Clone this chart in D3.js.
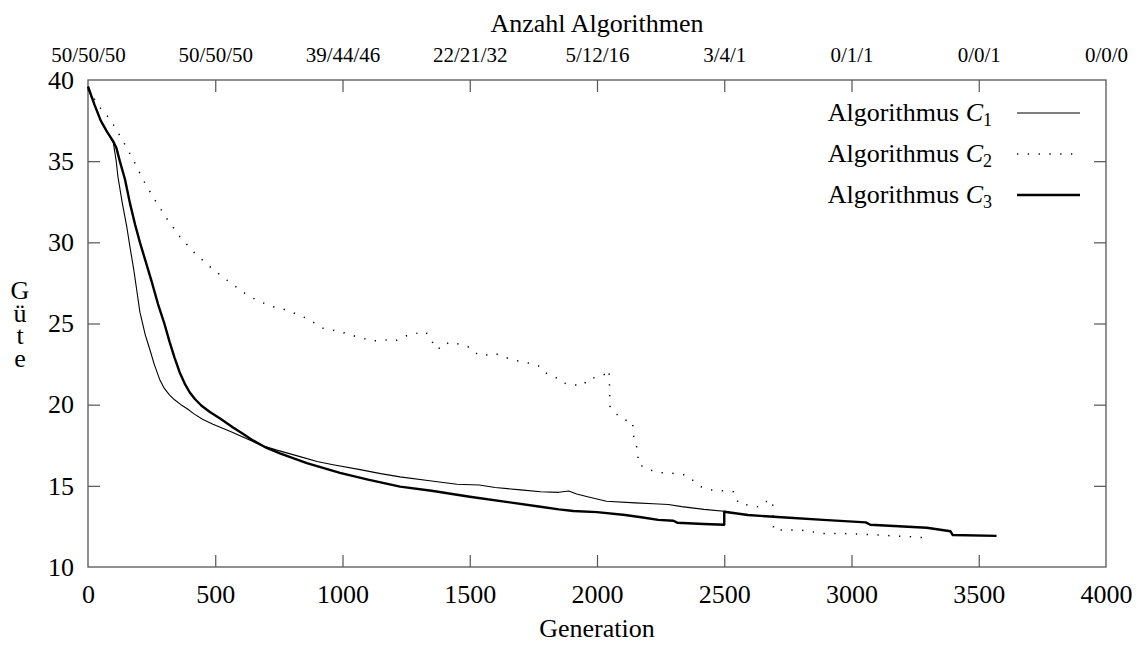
<!DOCTYPE html>
<html>
<head>
<meta charset="utf-8">
<script src="https://cdn.jsdelivr.net/npm/d3@7"></script>
</head>
<body style="margin:0">
<script>
// generation / quality pairs
var c1 = [[0,39.5],[25,38.5],[50,37.5],[75,36.8],[100,36.1],[110,35.1],[118,34.0],[135,32.4],
  [153,30.9],[165,29.7],[180,28.3],[192,27.0],[204,25.7],[225,24.3],[243,23.4],[260,22.5],
  [283,21.5],[300,21.0],[320,20.6],[340,20.3],[365,20.0],[390,19.75],[415,19.45],[450,19.1],
  [491,18.8],[560,18.35],[624,17.9],[680,17.5],[742,17.2],[833,16.8],[900,16.5],[963,16.3],
  [1069,16.0],[1150,15.75],[1226,15.55],[1350,15.3],[1450,15.1],[1537,15.05],[1600,14.9],
  [1700,14.75],[1778,14.64],[1850,14.6],[1889,14.68],[1920,14.5],[1963,14.33],[2037,14.05],
  [2150,13.95],[2222,13.9],[2280,13.85],[2333,13.72],[2420,13.55],[2520,13.4]];

var c2 = [[0,39.4],[54,38.15],[86,37.6],[132,36.4],[178,35.07],[217,33.84],[263,32.6],[309,31.48],
  [361,30.35],[414,29.42],[479,28.5],[545,27.68],[617,26.86],[650,26.55],[715,26.08],[780,25.83],
  [859,25.32],[925,24.7],[990,24.5],[1042,24.25],[1121,23.92],[1164,24.0],[1206,23.92],[1259,24.3],
  [1326,24.5],[1350,24.0],[1363,23.47],[1396,23.47],[1416,23.84],[1462,23.72],[1504,23.51],
  [1533,23.06],[1566,23.06],[1599,23.16],[1638,22.92],[1682,22.71],[1724,22.59],[1769,22.4],
  [1796,21.97],[1835,21.72],[1859,21.38],[1903,21.21],[1949,21.21],[1959,21.52],[1996,21.69],
  [2031,21.87],[2047,22.14],[2049,21.3],[2051,19.9],[2088,19.22],[2127,18.95],[2140,18.95],
  [2143,18.13],[2160,17.16],[2162,16.35],[2202,16.0],[2248,15.81],[2296,15.77],[2346,15.67],
  [2380,15.3],[2407,14.95],[2450,14.75],[2537,14.64],[2556,13.92],[2630,13.71],[2650,14.0],
  [2690,14.09],[2694,12.28],[2797,12.28],[2889,12.07],[2955,12.07],[3074,12.0],[3151,11.93],
  [3308,11.79]];

var c3 = [[0,39.6],[25,38.5],[50,37.5],[75,36.8],[100,36.2],[112,35.8],[125,35.0],[145,33.9],
  [165,32.4],[185,31.1],[204,30.0],[225,28.9],[250,27.6],[275,26.2],[300,25.0],[320,23.9],
  [340,22.9],[360,22.0],[380,21.3],[400,20.75],[420,20.35],[445,19.95],[479,19.55],[519,19.15],
  [570,18.6],[610,18.2],[648,17.8],[700,17.35],[754,17.0],[860,16.4],[990,15.8],[1096,15.4],
  [1226,14.95],[1350,14.7],[1500,14.33],[1650,14.0],[1778,13.71],[1850,13.55],[1907,13.45],
  [2000,13.38],[2111,13.2],[2180,13.05],[2241,12.9],[2300,12.85],[2315,12.73],[2420,12.65],
  [2500,12.6],[2500,13.4],[2593,13.2],[2741,13.05],[2889,12.9],[3056,12.75],[3074,12.6],
  [3296,12.42],[3389,12.2],[3398,11.97],[3570,11.92]];

var xTicks = [0, 500, 1000, 1500, 2000, 2500, 3000, 3500, 4000];
var yTicks = [10, 15, 20, 25, 30, 35, 40];
var topLabels = ["50/50/50", "50/50/50", "39/44/46", "22/21/32", "5/12/16", "3/4/1", "0/1/1", "0/0/1", "0/0/0"];
var seriesNames = ["1", "2", "3"];

var width = 1141, height = 645;
var margin = {left: 88, right: 35, top: 80, bottom: 78};
var serif = "'Liberation Serif', 'Times New Roman', serif";

var x = d3.scaleLinear().domain([0, 4000]).range([margin.left, width - margin.right]);
var y = d3.scaleLinear().domain([10, 40]).range([height - margin.bottom, margin.top]);

var svg = d3.select("body").append("svg")
  .attr("width", width)
  .attr("height", height)
  .style("font-family", serif);

var frameColor = "#555";
var inner = xTicks.slice(1, -1);
var innerY = yTicks.slice(1, -1);

// bottom axis, ticks point inward
var gx = svg.append("g")
  .attr("transform", "translate(0," + y(10) + ")")
  .call(d3.axisBottom(x).tickValues(xTicks).tickFormat(d3.format("d"))
    .tickSizeInner(-12).tickSizeOuter(0).tickPadding(18));
gx.selectAll(".tick line").filter(function(d) { return inner.indexOf(d) == -1; }).remove();

// top axis carries the algorithm counts
var gt = svg.append("g")
  .attr("transform", "translate(0," + y(40) + ")")
  .call(d3.axisTop(x).tickValues(xTicks).tickSizeInner(-12).tickSizeOuter(0).tickPadding(18)
    .tickFormat(function(d, i) { return topLabels[i]; }));
gt.selectAll(".tick line").filter(function(d) { return inner.indexOf(d) == -1; }).remove();

var gy = svg.append("g")
  .attr("transform", "translate(" + x(0) + ",0)")
  .call(d3.axisLeft(y).tickValues(yTicks).tickSizeInner(-12).tickSizeOuter(0).tickPadding(14));
gy.selectAll(".tick line").filter(function(d) { return innerY.indexOf(d) == -1; }).remove();

var gr = svg.append("g")
  .attr("transform", "translate(" + x(4000) + ",0)")
  .call(d3.axisRight(y).tickValues(yTicks).tickSizeInner(-12).tickSizeOuter(0).tickFormat(""));
gr.selectAll(".tick line").filter(function(d) { return innerY.indexOf(d) == -1; }).remove();

svg.selectAll(".domain").remove();
svg.selectAll(".tick line").attr("stroke", frameColor).attr("stroke-width", 1.2);
gx.selectAll("text").style("font-size", "26px");
gy.selectAll("text").style("font-size", "26px");
gt.selectAll("text").style("font-size", "21px");

// frame
svg.append("rect")
  .attr("x", x(0)).attr("y", y(40))
  .attr("width", x(4000) - x(0)).attr("height", y(10) - y(40))
  .attr("fill", "none").attr("stroke", frameColor).attr("stroke-width", 1.3);

// curves
var line = d3.line()
  .x(function(d) { return x(d[0]); })
  .y(function(d) { return y(d[1]); });

var styles = [
  {w: 1.1, dash: null},
  {w: 1.5, dash: "1.3,9.5"},
  {w: 2.4, dash: null}
];
var series = [c1, c2, c3];

series.forEach(function(s, i) {
  svg.append("path")
    .datum(s)
    .attr("fill", "none")
    .attr("stroke", "#000")
    .attr("stroke-width", styles[i].w)
    .attr("stroke-dasharray", styles[i].dash)
    .attr("stroke-linejoin", "round")
    .attr("d", line);
});

// titles
svg.append("text")
  .attr("x", 597).attr("y", 32)
  .attr("text-anchor", "middle").style("font-size", "26px")
  .text("Anzahl Algorithmen");

svg.append("text")
  .attr("x", 597).attr("y", 637)
  .attr("text-anchor", "middle").style("font-size", "26px")
  .text("Generation");

// y label: letters stacked upright in one vertical text
svg.append("text")
  .attr("x", 20).attr("y", 276)
  .style("writing-mode", "vertical-rl")
  .style("text-orientation", "upright")
  .style("letter-spacing", "-6.3px")
  .style("font-size", "26px")
  .text("Güte");

// legend
var legend = svg.append("g");
seriesNames.forEach(function(n, i) {
  var base = 121 + i * 41;
  var t = legend.append("text")
    .attr("x", 992).attr("y", base)
    .attr("text-anchor", "end").style("font-size", "26px");
  t.append("tspan").text("Algorithmus ");
  t.append("tspan").style("font-style", "italic").text("C");
  t.append("tspan").style("font-size", "18px").attr("dy", 5).text(n);

  legend.append("line")
    .attr("x1", 1017).attr("x2", 1080)
    .attr("y1", base - 8).attr("y2", base - 8)
    .attr("stroke", "#000")
    .attr("stroke-width", styles[i].w)
    .attr("stroke-dasharray", styles[i].dash);
});

svg.selectAll("text").style("font-family", serif).style("fill", "#000");
</script>
</body>
</html>
